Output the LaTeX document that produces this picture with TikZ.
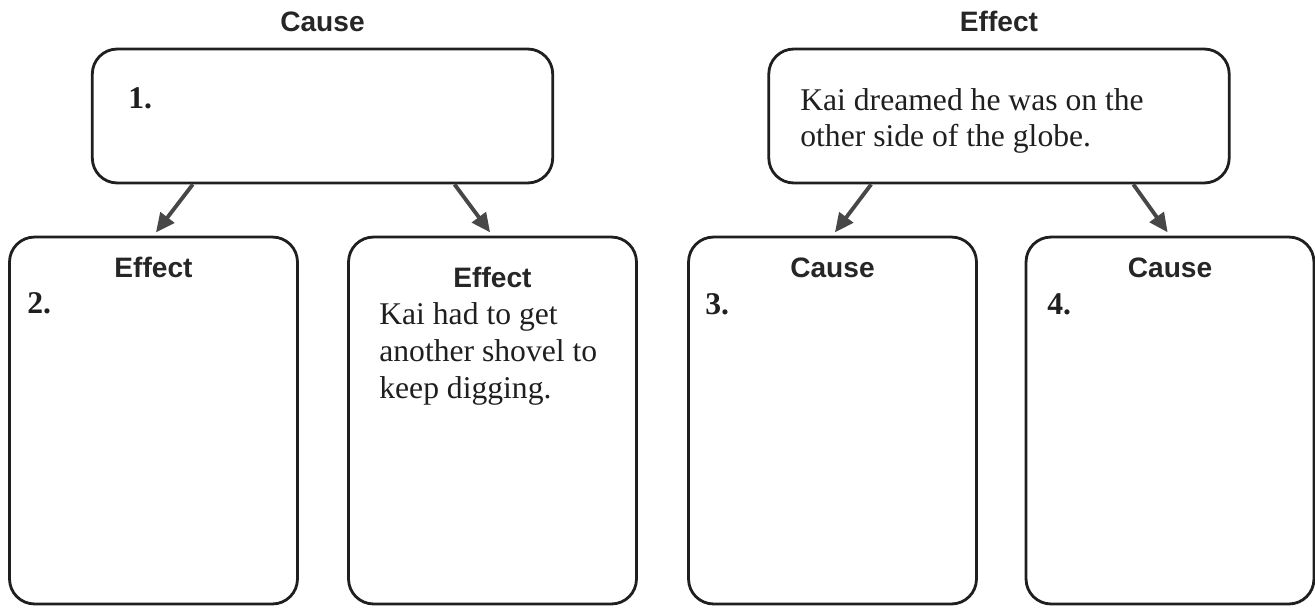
\documentclass[tikz,border=0pt]{standalone}
\usepackage{fontspec}
\setmainfont{Liberation Serif}
\setsansfont{Liberation Sans}
\usetikzlibrary{arrows.meta,calc}

\tikzset{
  box/.style={draw=black!88,line width=1.6pt,rounded corners=0.5cm,inner sep=0pt,minimum width=5.76cm,minimum height=7.34cm},
  topbox/.style={box,minimum width=9.21cm,minimum height=2.68cm},
  head/.style={font=\sffamily\bfseries\fontsize{16}{19}\selectfont,text=black!85,anchor=base,inner sep=0pt},
  txt/.style={font=\fontsize{18}{21}\selectfont,text=black!88,align=left,anchor=base west,inner sep=0pt},
  num/.style={font=\bfseries\fontsize{18}{21}\selectfont,text=black!88,anchor=base west,inner sep=0pt},
  arr/.style={->,line width=2.2pt,draw=black!72,shorten >=0.08cm}
}

\begin{document}
\begin{tikzpicture}[x=0.02cm,y=-0.02cm,line join=round,>={Triangle[length=0.38cm,width=0.34cm]}]
\useasboundingbox (0,0) rectangle (1315,608);

    \node[topbox] (pC) at (322.5,116) {};
    \node[topbox] (pE) at (999,116) {};

    \node[box] (e1) at (153.5,420.5) {};
    \node[box] (e2) at (492.5,420.5) {};
    \node[box] (c3) at (832.5,420.5) {};
    \node[box] (c4) at (1170,420.5) {};

    \node[head] (lC) at (322.5,32) {Cause};
    \node[head] (lE) at (999,32) {Effect};
    \node[head] (le1) at (153.5,277) {Effect};
    \node[head] (le2) at (492.5,287) {Effect};
    \node[head] (lc3) at (832.5,277) {Cause};
    \node[head] (lc4) at (1170,277) {Cause};

    \node[num] (n1) at (128,109) {1.};
    \node[num] (n2) at (27,313) {2.};
    \node[num] (n3) at (705,314) {3.};
    \node[num] (n4) at (1047,314) {4.};

    % base of a multi-line node is its last line
    \node[txt] (tE) at (800,147) {Kai dreamed he was on the\\other side of the globe.};
    \node[txt] (te2) at (379,398) {Kai had to get\\another shovel to\\keep digging.};

\draw[arr] ($(pC.south west)!0.22!(pC.south east)$) -- (e1.north);
\draw[arr] ($(pC.south west)!0.785!(pC.south east)$) -- (e2.north);
\draw[arr] ($(pE.south west)!0.224!(pE.south east)$) -- (c3.north);
\draw[arr] ($(pE.south west)!0.79!(pE.south east)$) -- (c4.north);
\end{tikzpicture}
\end{document}
